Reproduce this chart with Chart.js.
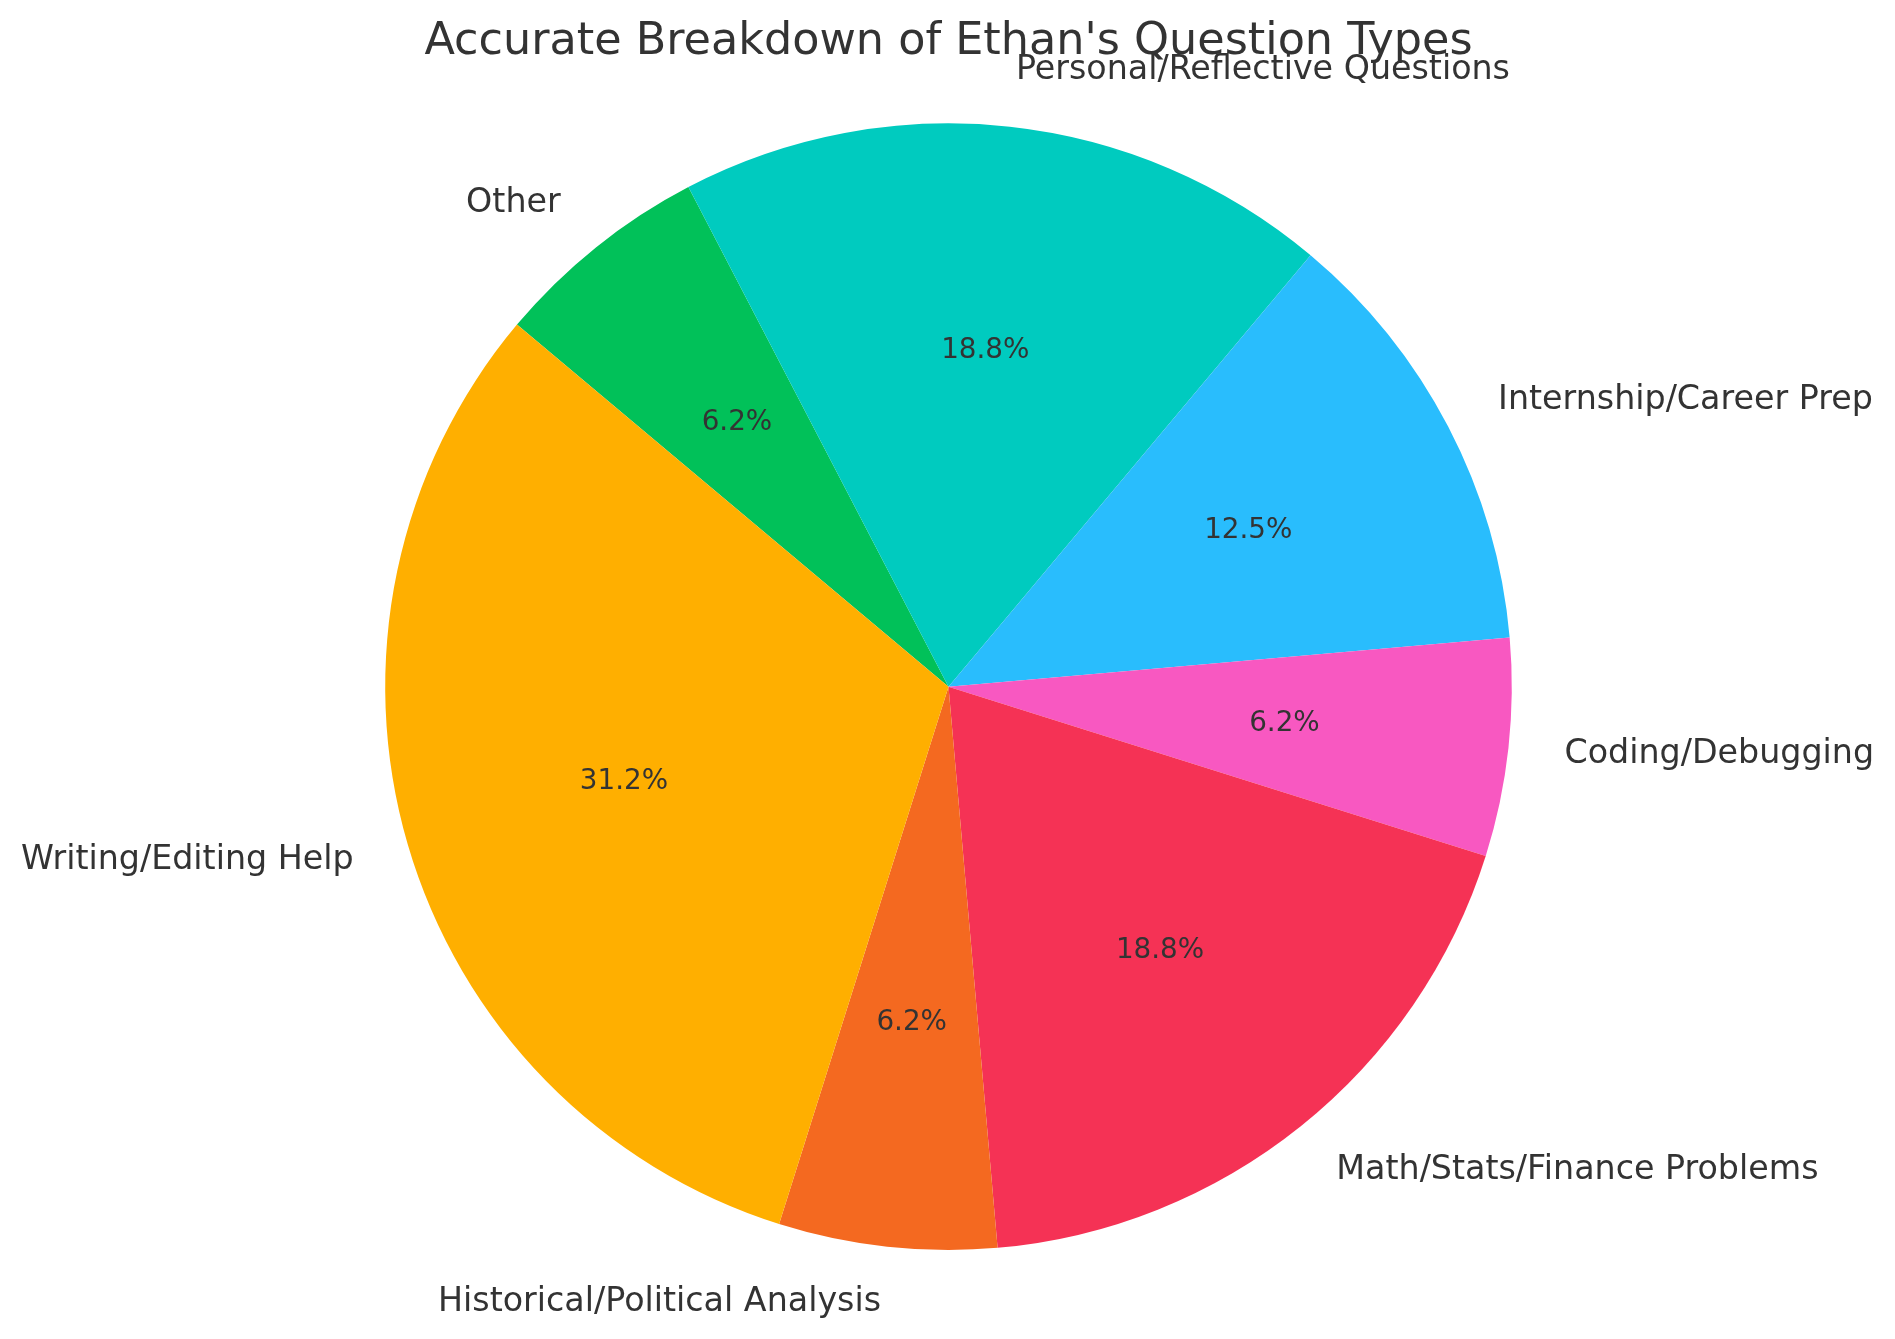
<!DOCTYPE html>
<html>
<head>
<meta charset="utf-8">
<script src="https://cdn.jsdelivr.net/npm/chart.js@4.4.1/dist/chart.umd.min.js"></script>
<style>
  html, body { margin: 0; padding: 0; background: #fff; }
  #wrap { width: 1895px; height: 1339px; position: relative; }
</style>
</head>
<body>
<div id="wrap"><canvas id="pie"></canvas></div>
<script>
// categories in counter-clockwise order, as in the source figure
var categories = [
  "Writing/Editing Help",
  "Historical/Political Analysis",
  "Math/Stats/Finance Problems",
  "Coding/Debugging",
  "Internship/Career Prep",
  "Personal/Reflective Questions",
  "Other",
];
var counts = [5, 1, 3, 1, 2, 3, 1];
var sliceColors = [
  "#FFAF00",
  "#F46920",
  "#F53255",
  "#F858C1",
  "#29BDFD",
  "#00CBBF",
  "#01C159",
];

// chart.js goes clockwise, so flip the order
var labels = categories.slice().reverse();
var values = counts.slice().reverse();
var colors = sliceColors.slice().reverse();
var total = values.reduce((a, b) => a + b, 0);

var textColor = "#333333";
var font = "DejaVu Sans";

// python-style rounding (half to even) so 6.25 -> 6.2
function pct(v) {
  var x = (v / total) * 1000;
  var f = Math.floor(x);
  var d = x - f;
  var n = d > 0.5 + 1e-9 ? f + 1 : d < 0.5 - 1e-9 ? f : f % 2 === 0 ? f : f + 1;
  return (n / 10).toFixed(1) + "%";
}

var pieLabels = {
  id: "pieLabels",
  afterDatasetsDraw(chart) {
    var ctx = chart.ctx;
    var meta = chart.getDatasetMeta(0);
    ctx.save();
    ctx.fillStyle = textColor;
    ctx.textBaseline = "middle";
    meta.data.forEach((arc, i) => {
      var p = arc.getProps(["x", "y", "startAngle", "endAngle", "outerRadius"], true);
      var mid = (p.startAngle + p.endAngle) / 2;
      var c = Math.cos(mid), s = Math.sin(mid);
      // outer label
      ctx.font = "33.3px '" + font + "'";
      ctx.textAlign = c > 0 ? "left" : "right";
      ctx.fillText(labels[i], p.x + c * p.outerRadius * 1.1, p.y + s * p.outerRadius * 1.1);
      // percentage
      ctx.font = "27.8px '" + font + "'";
      ctx.textAlign = "center";
      ctx.fillText(pct(values[i]), p.x + c * p.outerRadius * 0.6, p.y + s * p.outerRadius * 0.6);
    });
    ctx.restore();
  },
};

new Chart(document.getElementById("pie"), {
  type: "pie",
  data: {
    labels: labels,
    datasets: [
      {
        data: values,
        backgroundColor: colors,
        borderWidth: 0,
      },
    ],
  },
  options: {
    responsive: true,
    maintainAspectRatio: false,
    animation: false,
    devicePixelRatio: 1,
    rotation: -50,
    layout: {
      padding: { top: 0, bottom: 89, left: 100, right: 98 },
    },
    events: [],
    plugins: {
      legend: { display: false },
      tooltip: { enabled: false },
      title: {
        display: true,
        text: "Accurate Breakdown of Ethan's Question Types",
        color: textColor,
        font: { family: font, size: 44.5, weight: "normal", lineHeight: 1.2 },
        padding: { top: 16, bottom: 54 },
      },
    },
  },
  plugins: [pieLabels],
});
</script>
</body>
</html>
